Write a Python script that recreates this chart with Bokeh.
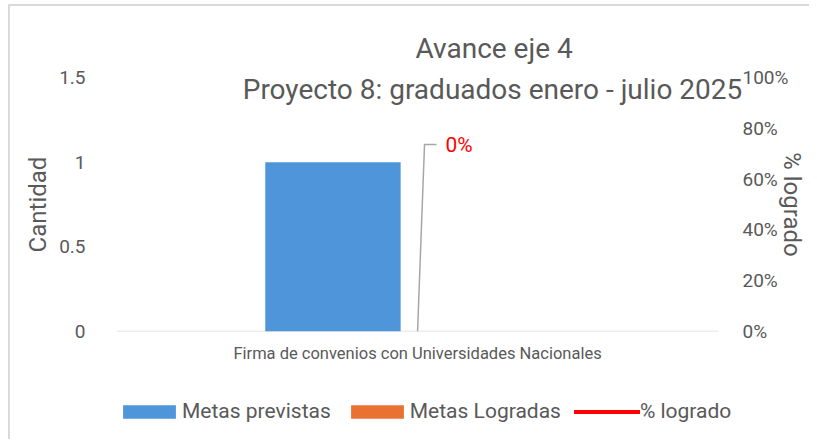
from bokeh.plotting import figure
from bokeh.layouts import column
from bokeh.models import (Range1d, LinearAxis, FixedTicker,
                          NumeralTickFormatter, Legend, LegendItem, Label)
from bokeh.transform import dodge
from bokeh.core.properties import value
from bokeh.embed import file_html
from bokeh.resources import INLINE

# ---------------- data ----------------
title_lines = ["Avance eje 4", "Proyecto 8: graduados enero - julio 2025"]
categories = ["Firma de convenios con Universidades Nacionales"]
metas_previstas = [1]
metas_logradas = [0]
pct_logrado = [0.0]
y_ticks = [0, 0.5, 1, 1.5]
pct_ticks = [0, 0.2, 0.4, 0.6, 0.8, 1.0]
y_label = "Cantidad"
pct_label = "% logrado"
series_names = ["Metas previstas", "Metas Logradas", "% logrado"]

# ---------------- style ----------------
FONT = "Roboto"
GRAY = "#595959"
BLUE = "#4E95D9"
ORANGE = "#E97132"
RED = "#FF0000"
LIGHT = "#D9D9D9"

W, H = 809, 439
MAIN_H = 375
F_LEFT, F_RIGHT, F_TOP, F_BOTTOM = 116, 745, 77, 331   # frame edges (px)
CAT_PX = 605           # px width of one category slot
PX_PER_PCT = F_BOTTOM - F_TOP
X_MAX = (F_RIGHT - F_LEFT) / CAT_PX

p = figure(x_range=Range1d(0, X_MAX), y_range=Range1d(0, max(y_ticks)),
           width=W, height=MAIN_H, title=title_lines[0],
           output_backend="svg", toolbar_location=None,
           min_border_left=F_LEFT, min_border_right=W - F_RIGHT,
           min_border_top=F_TOP, min_border_bottom=MAIN_H - F_BOTTOM)
p.styles = {"background": "linear-gradient(#D9D9D9,#D9D9D9) 8px 4px / 2px 100% no-repeat, "
                          "linear-gradient(#D9D9D9,#D9D9D9) 8px 4px / 100% 2px no-repeat, white"}
p.outline_line_color = None
p.xgrid.grid_line_color = None
p.ygrid.grid_line_color = None
p.background_fill_color = "white"
p.border_fill_alpha = 0

p.title.text_font = FONT
p.title.text_font_size = "28px"
p.title.text_font_style = "normal"
p.title.text_color = GRAY
p.title.align = "left"
p.title.offset = 299
p.title.standoff = 26

p.extra_y_ranges = {"pct": Range1d(0, max(pct_ticks))}

xc = [i + 0.5 for i in range(len(categories))]
src = {"xc": xc, "prev": metas_previstas, "logr": metas_logradas, "pct": pct_logrado}

# baseline (category axis line)
p.segment(x0=[0], y0=[0], x1=[len(categories)], y1=[0], line_color=LIGHT, line_width=1.5)

# bars
BAR_W = 136 / CAT_PX
r_prev = p.vbar(x=dodge("xc", -85 / CAT_PX), top="prev", width=BAR_W,
                source=src, fill_color=BLUE, line_color=None)
r_logr = p.vbar(x=dodge("xc", 51 / CAT_PX), top="logr", width=BAR_W,
                source=src, fill_color=ORANGE, line_color=None)
# line on secondary axis
r_line = p.line(x="xc", y="pct", source=src, y_range_name="pct",
                line_color=RED, line_width=4, line_cap="round")

# data label with leader line
for cx, v in zip(xc, pct_logrado):
    dy = 187 / PX_PER_PCT
    p.line(x=[cx, cx + 7 / CAT_PX, cx + 19 / CAT_PX], y=[v, v + dy, v + dy],
           y_range_name="pct", line_color="#A6A6A6", line_width=1.5)
    p.text(x=[cx + 28 / CAT_PX], y=[v + dy], text=[f"{v:.0%}"], y_range_name="pct",
           text_font=value(FONT), text_font_size="21px", text_color=RED,
           text_baseline="middle", text_align="left")

# second title line, inside the frame near its top
p.add_layout(Label(x=492 - F_LEFT, y=F_BOTTOM - 89, x_units="screen", y_units="screen",
                   text=title_lines[1], text_align="center", text_baseline="middle",
                   text_font=FONT, text_font_size="28px", text_color=GRAY))

# category axis
xa = p.xaxis[0]
xa.ticker = FixedTicker(ticks=xc)
xa.major_label_overrides = {x: c for x, c in zip(xc, categories)}
xa.axis_line_color = None
xa.major_tick_line_color = None
xa.minor_tick_line_color = None
xa.major_tick_out = 0
xa.major_tick_in = 0
xa.major_label_standoff = 12
xa.major_label_text_font = FONT
xa.major_label_text_font_size = "16.5px"
xa.major_label_text_color = GRAY

ya = p.yaxis[0]
ya.ticker = FixedTicker(ticks=y_ticks)
ya.major_label_overrides = {t: f"{t:g}" for t in y_ticks}
ya.axis_line_color = None
ya.major_tick_line_color = None
ya.minor_tick_line_color = None
ya.major_tick_out = 0
ya.major_tick_in = 0
ya.major_label_standoff = 31
ya.major_label_text_font = FONT
ya.major_label_text_font_size = "19px"
ya.major_label_text_color = GRAY
ya.axis_label = y_label
ya.axis_label_text_font = FONT
ya.axis_label_text_font_size = "24px"
ya.axis_label_text_font_style = "normal"
ya.axis_label_text_color = GRAY
ya.axis_label_standoff = 4

ra = LinearAxis(y_range_name="pct", ticker=FixedTicker(ticks=pct_ticks),
                formatter=NumeralTickFormatter(format="0%"))
ra.axis_line_color = None
ra.major_tick_line_color = None
ra.minor_tick_line_color = None
ra.major_tick_out = 0
ra.major_tick_in = 0
ra.major_label_standoff = 0
ra.major_label_text_font = FONT
ra.major_label_text_font_size = "19px"
ra.major_label_text_color = GRAY
ra.axis_label = pct_label
ra.axis_label_text_font = FONT
ra.axis_label_text_font_size = "24px"
ra.axis_label_text_font_style = "normal"
ra.axis_label_text_color = GRAY
ra.axis_label_standoff = -13
p.add_layout(ra, "right")

# ---------------- legend strip ----------------
LEG_H = H - MAIN_H
q = figure(x_range=Range1d(0, 1), y_range=Range1d(2, 3), width=W, height=LEG_H,
           output_backend="svg", toolbar_location=None, min_border=0)
q.styles = {"background": "linear-gradient(#D9D9D9,#D9D9D9) 8px 0px / 2px 100% no-repeat, white"}
q.axis.visible = False
q.grid.visible = False
q.outline_line_color = None
q.background_fill_alpha = 0
q.border_fill_alpha = 0
# same series drawn out of this strip's view: only their legend swatches show
l_prev = q.vbar(x="xc", top="prev", width=0.1, source=src, fill_color=BLUE, line_color=None)
l_logr = q.vbar(x="xc", top="logr", width=0.1, source=src, fill_color=ORANGE, line_color=None)
l_line = q.line(x="xc", y="pct", source=src, line_color=RED, line_width=4, line_cap="round")

legend = Legend(items=[LegendItem(label=series_names[0], renderers=[l_prev]),
                       LegendItem(label=series_names[1], renderers=[l_logr]),
                       LegendItem(label=series_names[2], renderers=[l_line])],
                orientation="horizontal", location=(0, 16),
                glyph_width=66, glyph_height=17, label_height=17,
                label_text_font=FONT, label_text_font_size="21px",
                label_text_color=GRAY, label_standoff=-4, spacing=13,
                padding=0, margin=0, border_line_color=None,
                background_fill_alpha=0)
q.add_layout(legend)

open("out.html", "w").write(file_html(column(p, q, spacing=0), INLINE))
